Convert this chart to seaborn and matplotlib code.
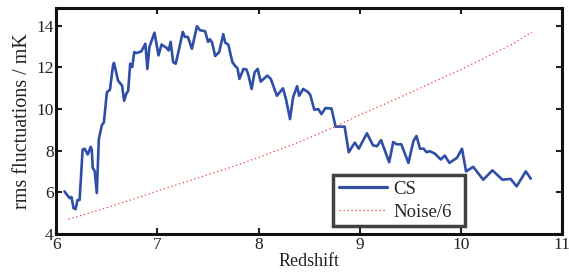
import numpy as np
import pandas as pd
import seaborn as sns
import matplotlib
matplotlib.use('Agg')
import matplotlib.pyplot as plt

# values
cs_z = [6.08, 6.13, 6.15, 6.17, 6.19, 6.21, 6.23, 6.26, 6.28, 6.31, 6.34, 6.35, 6.36, 6.38, 6.40,
        6.42, 6.45, 6.47, 6.50, 6.53, 6.56, 6.57, 6.61, 6.65, 6.67, 6.69, 6.71, 6.73, 6.75, 6.77,
        6.79, 6.84, 6.88, 6.90, 6.92, 6.97, 7.01, 7.04, 7.09, 7.11, 7.13, 7.155, 7.18, 7.21, 7.25,
        7.27, 7.30, 7.34, 7.39, 7.42, 7.47, 7.50, 7.52, 7.54, 7.57, 7.61, 7.65, 7.67, 7.70, 7.74,
        7.77, 7.79, 7.81, 7.85, 7.88, 7.90, 7.93, 7.96, 7.99, 8.02, 8.085, 8.12, 8.18, 8.24, 8.27,
        8.31, 8.34, 8.38, 8.40, 8.44, 8.49, 8.51, 8.55, 8.59, 8.62, 8.66, 8.72, 8.76, 8.85, 8.89,
        8.95, 8.99, 9.07, 9.13, 9.17, 9.21, 9.29, 9.33, 9.365, 9.41, 9.48, 9.53, 9.56, 9.595, 9.63,
        9.66, 9.69, 9.74, 9.80, 9.84, 9.885, 9.96, 10.01, 10.05, 10.12, 10.22, 10.31, 10.41, 10.49,
        10.55, 10.64, 10.69]
cs_rms = [6.05, 5.73, 5.78, 5.24, 5.20, 5.64, 5.64, 8.06, 8.10, 7.82, 8.19, 8.06, 7.18, 7.01, 5.97,
          8.55, 9.23, 9.36, 10.81, 10.93, 12.09, 12.22, 11.37, 11.13, 10.40, 10.72, 10.88, 12.18, 12.02, 12.74,
          12.69, 12.77, 13.14, 11.93, 12.98, 13.67, 12.58, 13.10, 12.94, 12.82, 13.23, 12.26, 12.18, 12.82, 13.71,
          13.47, 13.47, 12.90, 13.98, 13.79, 13.74, 13.23, 13.35, 13.19, 12.55, 12.74, 13.60, 13.19, 13.10, 12.26,
          12.06, 11.97, 11.45, 11.93, 11.90, 11.61, 10.97, 11.77, 11.93, 11.32, 11.61, 11.45, 10.64, 11.00, 10.48,
          9.52, 10.57, 11.10, 10.64, 10.97, 10.81, 10.68, 9.97, 10.00, 9.76, 10.05, 10.03, 9.16, 9.16, 7.93,
          8.39, 8.10, 8.84, 8.26, 8.22, 8.51, 7.45, 8.42, 8.31, 8.31, 7.42, 8.47, 8.71, 8.10, 8.10,
          7.93, 7.98, 7.87, 7.58, 7.77, 7.42, 7.66, 8.10, 7.01, 7.23, 6.61, 7.06, 6.61, 6.65,
          6.29, 7.01, 6.66]

noise_z = [6.12, 6.25, 6.5, 6.75, 7.0, 7.25, 7.5, 7.75, 8.0, 8.25, 8.5, 8.75, 9.0, 9.25, 9.5,
           9.75, 10.0, 10.25, 10.5, 10.7]
noise_rms = [4.72, 4.90, 5.27, 5.66, 6.07, 6.46, 6.85, 7.25, 7.68, 8.14, 8.62, 9.15, 9.72, 10.25, 10.80,
             11.35, 11.90, 12.50, 13.10, 13.70]

xticks = [6, 7, 8, 9, 10, 11]
yticks = [4, 6, 8, 10, 12, 14]

df_cs = pd.DataFrame({'Redshift': cs_z, 'rms': cs_rms})
df_noise = pd.DataFrame({'Redshift': noise_z, 'rms': noise_rms})

sns.set_style('ticks')
plt.rcParams['font.family'] = ['Liberation Serif', 'DejaVu Serif']
plt.rcParams['xtick.direction'] = 'in'
plt.rcParams['ytick.direction'] = 'in'

fig = plt.figure(figsize=(5.69, 2.80), dpi=100)
ax = fig.add_axes([0.099, 0.164, 0.889, 0.807])

sns.lineplot(data=df_cs, x='Redshift', y='rms', ax=ax, sort=False, estimator=None,
             color='#2f4ea6', linewidth=1.9, label='CS')
sns.lineplot(data=df_noise, x='Redshift', y='rms', ax=ax, sort=False, estimator=None,
             color='#f43c3c', linewidth=0.9, linestyle=(0, (1, 2.2)), label='Noise/6')

ax.set_xlim(6, 11)
ax.set_ylim(4, 14.85)
ax.set_xticks(xticks)
ax.set_yticks(yticks)
ax.tick_params(labelsize=12.5, length=4, width=1.5, top=True, right=True, colors='#222222', pad=2)
ax.set_xlabel('Redshift', fontsize=13, labelpad=0, color='#222222')
ax.set_ylabel('rms fluctuations / mK', fontsize=14.5, labelpad=3, color='#222222')
for s in ax.spines.values():
    s.set_linewidth(2.2)
    s.set_color('#111111')

leg = ax.legend(loc='lower left', bbox_to_anchor=(0.547, 0.035, 0.261, 0.24), mode='expand',
                fontsize=13.5, frameon=True, fancybox=False, handlelength=2.6, handletextpad=0.3,
                borderaxespad=0, borderpad=0.3, labelspacing=0.3)
leg.get_frame().set_edgecolor('#111111')
leg.get_frame().set_linewidth(2.5)
for h in leg.get_lines():
    h.set_linewidth(2.3) if h.get_label() == 'CS' else None

plt.savefig('out.png', dpi=100)
